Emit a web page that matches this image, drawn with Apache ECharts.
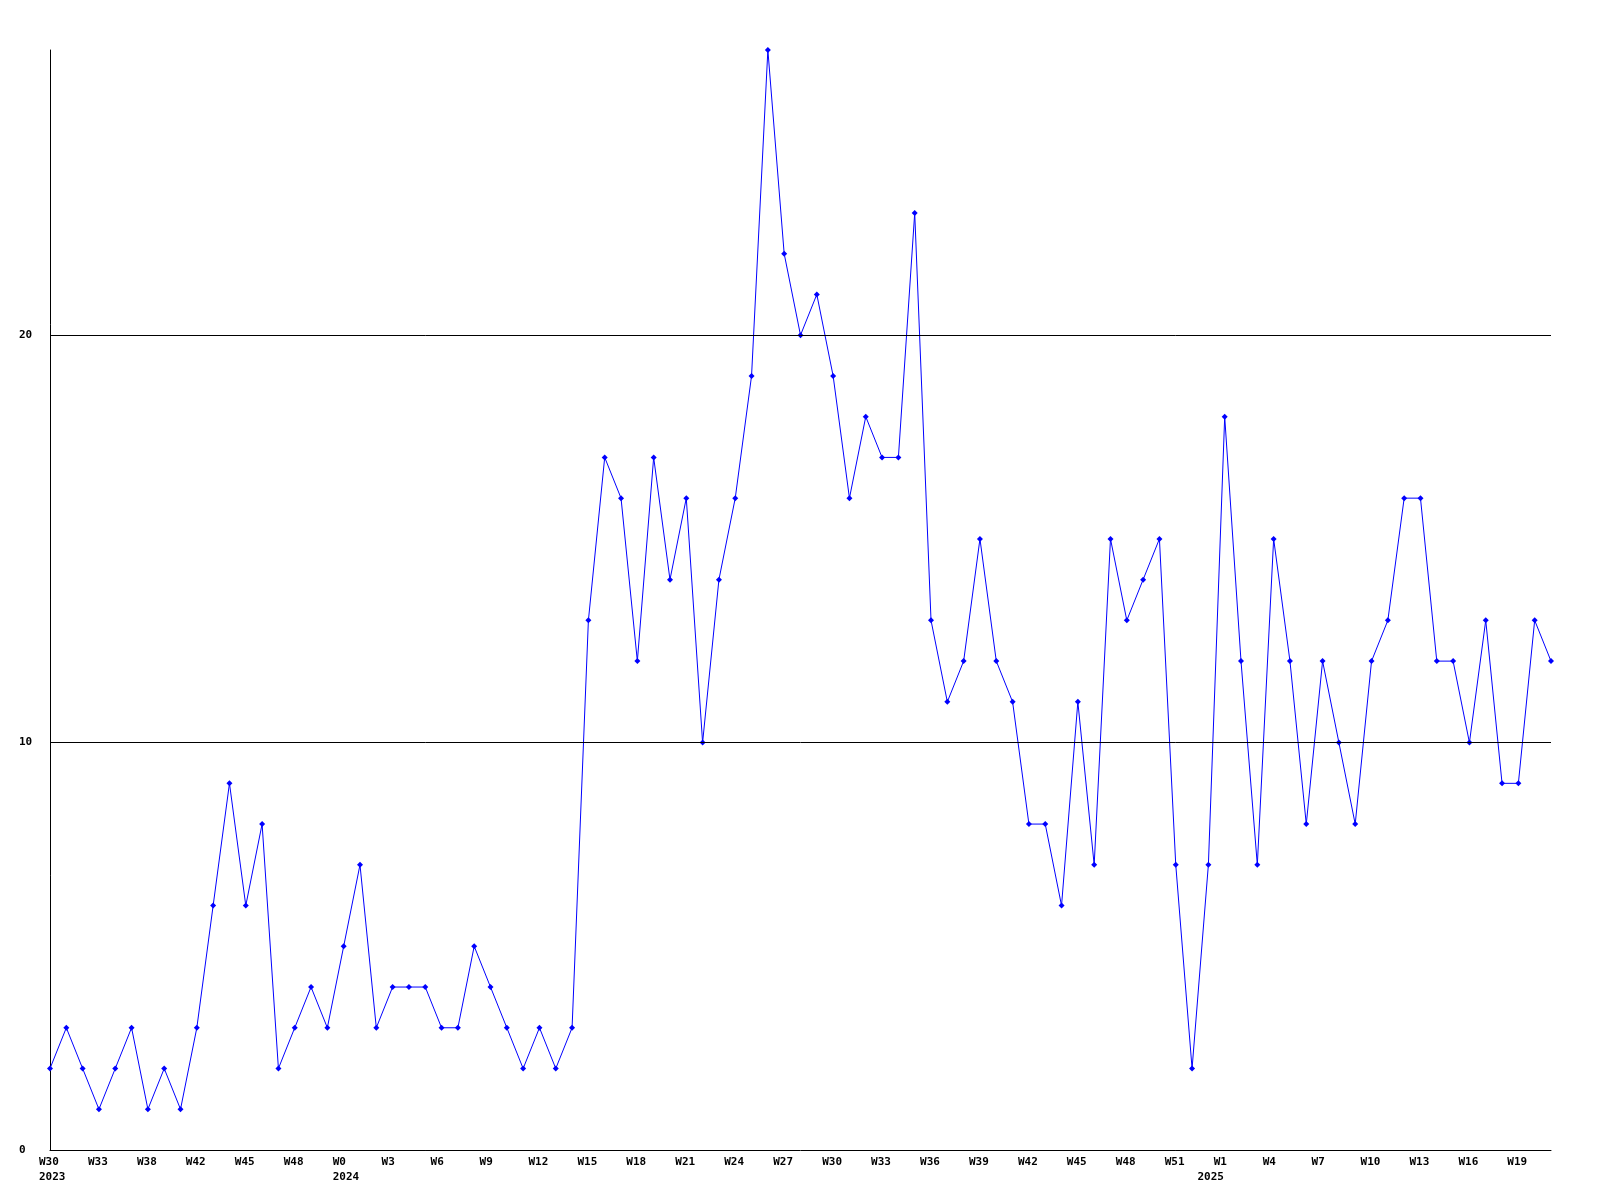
<!DOCTYPE html>
<html>
<head>
<meta charset="utf-8">
<script src="https://cdn.jsdelivr.net/npm/echarts@6/dist/echarts.min.js"></script>
<style>html,body{margin:0;padding:0;background:#fff;}#chart{width:1600px;height:1200px;}</style>
</head>
<body>
<div id="chart"></div>
<script>
// Week tick labels, shown every 3rd point on the x axis
const tickLabels = ["W30","W33","W38","W42","W45","W48","W0","W3","W6","W9","W12","W15","W18","W21","W24","W27","W30","W33","W36","W39","W42","W45","W48","W51","W1","W4","W7","W10","W13","W16","W19"];
// Year labels, keyed by point index
const yearLabels = {0: "2023", 18: "2024", 71: "2025"};
// Weekly values
const values = [2,3,2,1,2,3,1,2,1,3,6,9,6,8,2,3,4,3,5,7,3,4,4,4,3,3,5,4,3,2,3,2,3,13,17,16,12,17,14,16,10,14,16,19,27,22,20,21,19,16,18,17,17,23,13,11,12,15,12,11,8,8,6,11,7,15,13,14,15,7,2,7,18,12,7,15,12,8,12,10,8,12,13,16,16,12,12,10,13,9,9,13,12];
const yTicks = [0, 10, 20];

const categories = values.map((v, i) => "p" + i);

const chart = echarts.init(document.getElementById('chart'), null, {renderer: 'canvas'});
const font = "DejaVu Sans Mono";
chart.setOption({
  animation: false,
  backgroundColor: '#ffffff',
  grid: {left: 50, right: 49, top: 50, bottom: 50, containLabel: false},
  xAxis: {
    type: 'category',
    data: categories,
    boundaryGap: false,
    axisLine: {show: true, lineStyle: {color: '#000', width: 1}},
    axisTick: {show: false},
    splitLine: {show: false},
    axisLabel: {
      interval: function (idx) { return idx % 3 === 0 || yearLabels[idx] !== undefined; },
      hideOverlap: false,
      margin: 5,
      align: 'left',
      padding: [0, 0, 0, -11],
      color: '#000',
      fontFamily: font,
      fontWeight: 'bold',
      fontSize: 11,
      lineHeight: 15,
      formatter: function (val, idx) {
        const wk = idx % 3 === 0 ? tickLabels[idx / 3] : '';
        const yr = yearLabels[idx];
        return yr ? wk + "\n" + yr : wk;
      }
    }
  },
  yAxis: {
    type: 'value',
    min: 0,
    max: 27,
    interval: 10,
    axisLine: {show: true, lineStyle: {color: '#000', width: 1}},
    axisTick: {show: false},
    splitLine: {show: false},
    axisLabel: {
      showMaxLabel: false,
      align: 'left',
      margin: 31,
      color: '#000',
      fontFamily: font,
      fontWeight: 'bold',
      fontSize: 11,
      formatter: function (v) { return yTicks.indexOf(v) >= 0 ? String(v) : ''; }
    }
  },
  series: [{
    type: 'line',
    data: values,
    symbol: 'diamond',
    symbolSize: 6,
    showAllSymbol: true,
    lineStyle: {color: '#0000ff', width: 1},
    itemStyle: {color: '#0000ff'},
    markLine: {
      silent: true,
      symbol: ['none', 'none'],
      label: {show: false},
      lineStyle: {color: '#000', width: 1, type: 'solid'},
      data: yTicks.filter(v => v > 0).map(v => ({yAxis: v}))
    }
  }]
});
</script>
</body>
</html>
